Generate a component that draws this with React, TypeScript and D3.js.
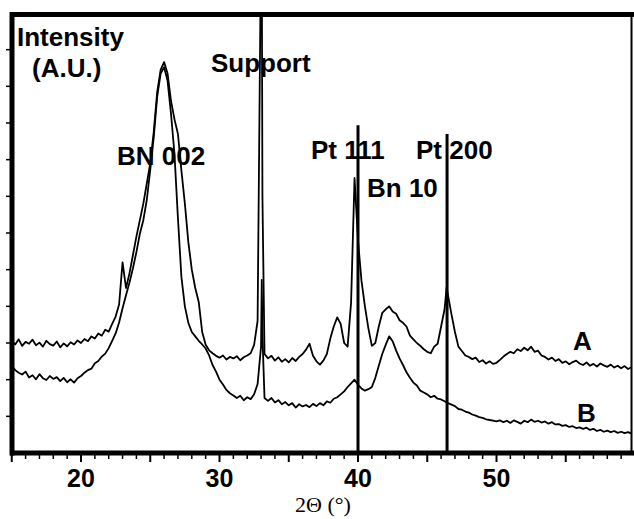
import React from 'react';
import * as d3 from 'd3';

// 2θ grid (degrees)
const TWO_THETA = [
  15, 15.25, 15.5, 15.75, 16, 16.25, 16.5, 16.75, 17, 17.25, 17.5, 17.75, 18, 18.25, 18.5, 18.75, 19, 19.25, 19.5, 19.75,
  20, 20.25, 20.5, 20.75, 21, 21.25, 21.5, 21.75, 22, 22.25, 22.5, 22.75, 23, 23.25, 23.5, 23.75, 24, 24.25, 24.5, 24.75,
  25, 25.25, 25.5, 25.75, 26, 26.25, 26.5, 26.75, 27, 27.25, 27.5, 27.75, 28, 28.25, 28.5, 28.75, 29, 29.25, 29.5, 29.75,
  30, 30.25, 30.5, 30.75, 31, 31.25, 31.5, 31.75, 32, 32.25, 32.5, 32.75, 33, 33.05, 33.1, 33.25, 33.5, 33.75, 34, 34.25, 34.5, 34.75,
  35, 35.25, 35.5, 35.75, 36, 36.25, 36.5, 36.75, 37, 37.25, 37.5, 37.75, 38, 38.25, 38.5, 38.75, 39, 39.25, 39.5, 39.75,
  40, 40.25, 40.5, 40.75, 41, 41.25, 41.5, 41.75, 42, 42.25, 42.5, 42.75, 43, 43.25, 43.5, 43.75, 44, 44.25, 44.5, 44.75,
  45, 45.25, 45.5, 45.75, 46, 46.25, 46.4, 46.5, 46.75, 47, 47.25, 47.5, 47.75, 48, 48.25, 48.5, 48.75, 49, 49.25, 49.5, 49.75,
  50, 50.25, 50.5, 50.75, 51, 51.25, 51.5, 51.75, 52, 52.25, 52.5, 52.75, 53, 53.25, 53.5, 53.75, 54, 54.25, 54.5, 54.75,
  55, 55.25, 55.5, 55.75, 56, 56.25, 56.5, 56.75, 57, 57.25, 57.5, 57.75, 58, 58.25, 58.5, 58.75, 59, 59.25, 59.5, 59.75,
];

// Sample A intensity (arbitrary units)
const SAMPLE_A = [
  305, 296, 310, 292, 303, 298, 309, 294, 301, 290, 306, 297, 293, 304, 288, 299, 291, 302, 296, 307,
  300, 311, 305, 318, 312, 326, 320, 336, 331, 352, 372, 405, 520, 450, 490, 540, 590, 635, 680, 735,
  790, 875, 984, 1045, 1066, 1035, 960, 910, 870, 770, 680, 575, 500, 450, 412, 330, 295, 280, 272, 265,
  260, 266, 255, 262, 258, 264, 253, 261, 266, 272, 295, 360, 1400, 1400, 700, 270, 258, 265, 252, 261, 249, 256,
  247, 259, 251, 262, 270, 282, 298, 265, 250, 241, 252, 270, 312, 345, 370, 352, 300, 290, 410, 750,
  580, 470, 400, 340, 292, 300, 345, 382, 392, 400, 386, 380, 362, 355, 345, 320, 310, 300, 292, 283,
  276, 272, 290, 298, 345, 392, 452, 430, 378, 330, 290, 278, 266, 262, 256, 260, 248, 253, 244, 250, 243,
  246, 254, 263, 270, 276, 272, 283, 278, 287, 280, 290, 276, 279, 266, 262, 255, 260, 251, 256, 246,
  250, 242, 248, 252, 244, 240, 247, 238, 243, 236, 244, 239, 235, 241, 233, 238, 231, 237, 229, 234,
];

// Sample B intensity (arbitrary units)
const SAMPLE_B = [
  238, 226, 219, 214, 222, 206, 212, 201, 215, 204, 199, 210, 202, 207, 196, 205, 193, 201, 192, 204,
  210, 219, 226, 230, 245, 251, 263, 271, 286, 306, 326, 356, 395, 430, 465, 504, 548, 598, 635, 690,
  772, 860, 971, 1035, 1052, 1015, 925, 815, 640, 480, 400, 355, 330, 318, 306, 296, 285, 266, 240, 222,
  200, 187, 172, 163, 157, 150, 156, 144, 152, 147, 160, 188, 290, 472, 320, 150, 142, 150, 138, 144, 133, 139,
  130, 136, 124, 133, 127, 131, 125, 134, 128, 136, 130, 141, 137, 148, 152, 160, 168, 180, 190, 200,
  186, 176, 170, 174, 180, 205, 238, 270, 295, 318, 305, 280, 258, 240, 220, 205, 192, 184, 170, 165,
  160, 152, 156, 148, 146, 141, 138, 136, 132, 128, 120, 118, 113, 110, 105, 102, 98, 96, 92, 90, 88,
  86, 89, 84, 88, 82, 89, 85, 80, 88, 84, 91, 85, 88, 83, 86, 80, 84, 78, 79, 74,
  76, 71, 73, 68, 70, 66, 69, 63, 66, 60, 63, 58, 61, 57, 60, 55, 58, 54, 57, 53,
];

const X_TICK_LABELS = [20, 30, 40, 50];
const X_MAJOR_TICKS = [15, 20, 25, 30, 35, 40, 45, 50, 55];
const Y_TICKS = [100, 200, 300, 400, 500, 600, 700, 800, 900, 1000, 1100];
// Reference lines: Pt 111 and Pt 200 (position in 2θ, top in intensity units)
const REF_LINE_POS = [40.0, 46.43];
const REF_LINE_TOP = [894, 870];

const W = 634;
const H = 519;
const FONT = "'Liberation Sans', Arial, sans-serif";

export default function App() {
  const x = d3.scaleLinear().domain([15, 60]).range([11.75, 635]);
  const y = d3.scaleLinear().domain([0, 1200]).range([453, 13]);

  const line = d3
    .line<number>()
    .x((_, i) => x(TWO_THETA[i]))
    .y((d) => y(d));

  const minorTicks = d3.range(15, 60, 1).filter((v) => v % 5 !== 0);

  const plotL = 12;
  const plotR = 631.5;
  const plotT = 14.5;
  const plotB = 453;

  return (
    <svg
      width={W}
      height={H}
      style={{ position: 'absolute', left: 0, top: 0, display: 'block', background: '#fff' }}
    >
      <defs>
        <clipPath id="plotclip">
          <rect x={plotL} y={plotT} width={plotR - plotL} height={plotB - plotT} />
        </clipPath>
      </defs>
      <rect x={0} y={0} width={W} height={H} fill="#fff" />

      {/* curves */}
      <g clipPath="url(#plotclip)" fill="none" stroke="#000" strokeLinejoin="round">
        <path d={line(SAMPLE_A) || ''} strokeWidth={1.8} />
        <path d={line(SAMPLE_B) || ''} strokeWidth={1.8} />
      </g>

      {/* reference lines */}
      {REF_LINE_POS.map((p, i) => (
        <line key={i} x1={x(p)} x2={x(p)} y1={y(REF_LINE_TOP[i])} y2={plotB} stroke="#000" strokeWidth={3} />
      ))}

      {/* frame */}
      <line x1={10} x2={634} y1={plotT} y2={plotT} stroke="#000" strokeWidth={5} />
      <line x1={plotL} x2={plotL} y1={12} y2={455.5} stroke="#000" strokeWidth={5} />
      <line x1={10} x2={634} y1={plotB} y2={plotB} stroke="#000" strokeWidth={5} />
      <line x1={plotR} x2={plotR} y1={12} y2={455} stroke="#000" strokeWidth={2} />

      {/* y ticks */}
      {Y_TICKS.map((t) => (
        <line key={t} x1={6} x2={10} y1={y(t)} y2={y(t)} stroke="#000" strokeWidth={1.5} />
      ))}

      {/* x ticks */}
      {minorTicks.map((t) => (
        <line key={'m' + t} x1={x(t)} x2={x(t)} y1={455} y2={459} stroke="#000" strokeWidth={1.5} />
      ))}
      {X_MAJOR_TICKS.map((t) => (
        <line key={'M' + t} x1={x(t)} x2={x(t)} y1={455} y2={462} stroke="#000" strokeWidth={2} />
      ))}
      {X_TICK_LABELS.map((t) => (
        <text key={'l' + t} x={x(t)} y={487} textAnchor="middle" fontFamily={FONT} fontWeight="bold" fontSize={25}>
          {t}
        </text>
      ))}
      <text x={323} y={512} textAnchor="middle" fontFamily="'Liberation Serif', 'Times New Roman', serif" fontSize={22}>
        2Θ (°)
      </text>

      {/* annotations */}
      <g fontFamily={FONT} fontWeight="bold" fontSize={26} fill="#000">
        <text x={17} y={46}>Intensity</text>
        <text x={32} y={77}>(A.U.)</text>
        <text x={211} y={72}>Support</text>
        <text x={117} y={165}>BN 002</text>
        <text x={311} y={159}>Pt 111</text>
        <text x={416} y={159}>Pt 200</text>
        <text x={367} y={197}>Bn 10</text>
        <text x={573} y={350}>A</text>
        <text x={577} y={422}>B</text>
      </g>
    </svg>
  );
}
